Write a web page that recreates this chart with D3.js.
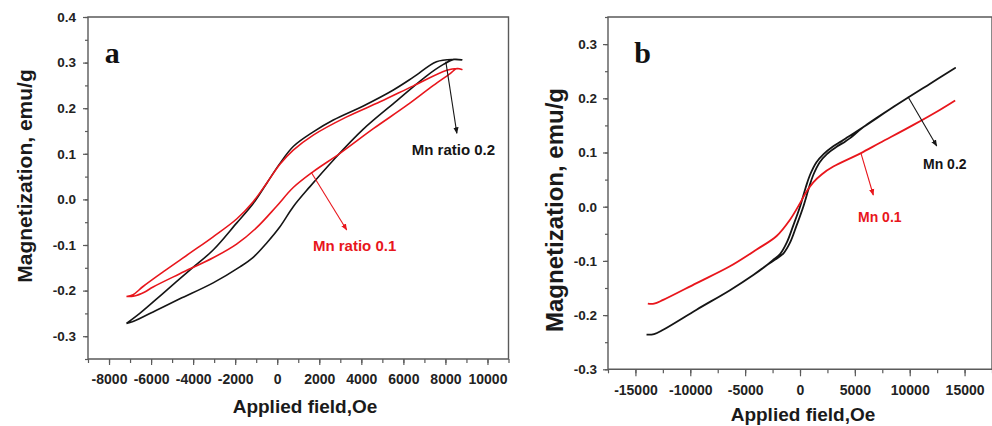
<!DOCTYPE html>
<html>
<head>
<meta charset="utf-8">
<script src="https://cdn.jsdelivr.net/npm/d3@7"></script>
<style>
  body { margin: 0; background: #fff; }
  svg { display: block; }
  .tick text { font-family: "Liberation Sans", Arial, sans-serif; font-weight: bold; fill: #222; }
</style>
</head>
<body>
<div id="chart"></div>
<script>
// Panel a: loops, lower branch (ascending field) then upper branch (descending)
const aMn02Field = [-7171, -6857, -5743, -4633, -3048, -1776, -1143, -510, 129, 762, 1557, 2667, 4095, 5681, 7110, 7905, 8400, 8780,
  8400, 7573, 6476, 5524, 4095, 2667, 1714, 762, 129, -505, -1143, -1933, -3048, -4157, -5429, -6538, -7171];
const aMn02Mag = [-0.272, -0.268, -0.243, -0.218, -0.183, -0.148, -0.127, -0.096, -0.060, -0.016, 0.028, 0.086, 0.154, 0.216, 0.271, 0.296, 0.307, 0.306,
  0.307, 0.302, 0.268, 0.240, 0.205, 0.174, 0.148, 0.116, 0.079, 0.035, -0.009, -0.052, -0.111, -0.155, -0.206, -0.250, -0.272];

const aMn01Field = [-7171, -6800, -6300, -5905, -4633, -3048, -1933, -981, -29, 762, 1714, 2986, 4571, 6157, 7429, 8224, 8543, 8780,
  8543, 8066, 6476, 4890, 3305, 1714, 762, 129, -510, -1143, -1933, -3048, -4157, -5429, -6381, -6857, -7171];
const aMn01Mag = [-0.213, -0.212, -0.203, -0.192, -0.163, -0.128, -0.098, -0.062, -0.015, 0.026, 0.061, 0.101, 0.155, 0.206, 0.250, 0.276, 0.287, 0.285,
  0.287, 0.283, 0.249, 0.214, 0.181, 0.141, 0.108, 0.077, 0.035, -0.005, -0.043, -0.082, -0.118, -0.159, -0.191, -0.209, -0.213];

// Panel b
const bMn02Field = [-13988, -13300, -12470, -9425, -6380, -4256, -3039, -2300, -1500, -900, -300, 300, 800, 1200, 1800, 2450, 3300, 4100, 4600, 5779, 8820, 11861, 13990, 14142,
  13990, 11861, 8820, 5779, 4400, 3800, 3000, 2150, 1500, 900, 500, 0, -600, -1200, -1800, -2500, -3039, -4256, -6380, -9425, -12470, -13300, -13988];
const bMn02Mag = [-0.236, -0.235, -0.227, -0.190, -0.154, -0.126, -0.108, -0.098, -0.086, -0.066, -0.034, 0.000, 0.034, 0.058, 0.082, 0.097, 0.110, 0.120, 0.127, 0.147, 0.188, 0.227, 0.254, 0.256,
  0.254, 0.227, 0.188, 0.147, 0.129, 0.121, 0.111, 0.097, 0.082, 0.058, 0.034, 0.000, -0.034, -0.066, -0.087, -0.099, -0.108, -0.126, -0.154, -0.190, -0.227, -0.235, -0.236];

const bMn01Field = [-13870, -13300, -12470, -9425, -6387, -3950, -2129, -912, -152, 600, 1212, 2000, 3038, 5469, 7299, 10337, 12774, 14142];
const bMn01Mag = [-0.179, -0.179, -0.172, -0.141, -0.110, -0.079, -0.054, -0.024, 0.001, 0.028, 0.045, 0.060, 0.074, 0.098, 0.118, 0.151, 0.179, 0.196];

// Ticks
const aXTicks = [-8000, -6000, -4000, -2000, 0, 2000, 4000, 6000, 8000, 10000];
const aYTicks = [-0.3, -0.2, -0.1, 0.0, 0.1, 0.2, 0.3, 0.4];
const bXTicks = [-15000, -10000, -5000, 0, 5000, 10000, 15000];
const bYTicks = [-0.3, -0.2, -0.1, 0.0, 0.1, 0.2, 0.3];

const red = "#e8161c";
const black = "#151515";
const axisColor = "#5a5a5a";

// plain hyphen for negatives, like the original figure
const locale = d3.formatLocale({ decimal: ".", thousands: "", grouping: [3], currency: ["", ""], minus: "-" });
const fmtX = locale.format("d");
const fmtY = locale.format(".1f");

const width = 992, height = 426;
const svg = d3.select("#chart").append("svg")
  .attr("width", width).attr("height", height);

const defs = svg.append("defs");
[["arrowBlack", black], ["arrowRed", red]].forEach(([id, c]) => {
  defs.append("marker")
    .attr("id", id)
    .attr("viewBox", "0 0 10 10")
    .attr("refX", 9).attr("refY", 5)
    .attr("markerWidth", 6).attr("markerHeight", 6)
    .attr("orient", "auto")
    .append("path").attr("d", "M0,1 L10,5 L0,9 Z").attr("fill", c);
});

function drawPanel(p) {
  const x = d3.scaleLinear().domain(p.xDomain).range([p.left, p.right]);
  const y = d3.scaleLinear().domain(p.yDomain).range([p.bottom, p.top]);
  const g = svg.append("g");

  // frame (left, top, bottom, right)
  g.append("path")
    .attr("d", `M${p.left},${p.bottom} L${p.left},${p.top} L${p.right},${p.top} L${p.right},${p.bottom} Z`)
    .attr("fill", "none").attr("stroke", axisColor).attr("stroke-width", 1.4);

  // minor ticks
  g.append("g").attr("transform", `translate(0,${p.bottom})`)
    .call(d3.axisBottom(x).tickValues(d3.range(p.xDomain[0], p.xDomain[1] + 1, p.xMinor)).tickSize(4).tickFormat(""))
    .call(s => s.select(".domain").remove());
  g.append("g").attr("transform", `translate(${p.left},0)`)
    .call(d3.axisLeft(y).tickValues(d3.range(p.yDomain[0], p.yDomain[1] + 1e-9, 0.05)).tickSize(3).tickFormat(""))
    .call(s => s.select(".domain").remove());

  // major ticks
  const xa = g.append("g").attr("transform", `translate(0,${p.bottom})`)
    .call(d3.axisBottom(x).tickValues(p.xTicks).tickSize(p.xTickLen).tickPadding(p.xPad).tickFormat(fmtX))
    .call(s => s.select(".domain").remove());
  xa.selectAll("text").style("font-size", p.xFont + "px");
  const ya = g.append("g").attr("transform", `translate(${p.left},0)`)
    .call(d3.axisLeft(y).tickValues(p.yTicks).tickSize(5).tickPadding(p.yPad).tickFormat(fmtY))
    .call(s => s.select(".domain").remove());
  ya.selectAll("text").style("font-size", "13.5px");
  g.selectAll(".tick line").attr("stroke", axisColor).attr("stroke-width", 1.2);

  // axis titles
  g.append("text")
    .attr("x", p.xTitleX).attr("y", p.xTitleY)
    .attr("text-anchor", "middle")
    .style("font-family", "'Liberation Sans', Arial, sans-serif")
    .style("font-weight", "bold").style("font-size", "19px").attr("fill", "#1a1a1a")
    .text("Applied field,Oe");
  g.append("text")
    .attr("transform", `translate(${p.yTitleX},${p.yTitleY}) rotate(-90)`)
    .attr("text-anchor", "middle")
    .style("font-family", "'Liberation Sans', Arial, sans-serif")
    .style("font-weight", "bold").style("font-size", p.yTitleFont + "px").attr("fill", "#1a1a1a")
    .text("Magnetization, emu/g");

  // panel letter
  g.append("text")
    .attr("x", x(p.letterAt[0])).attr("y", y(p.letterAt[1]))
    .style("font-family", "'Liberation Serif', 'Times New Roman', serif")
    .style("font-weight", "bold").style("font-size", "30px").attr("fill", "#111")
    .text(p.letter);

  // curves
  const line = d3.line()
    .x(d => x(d[0])).y(d => y(d[1]))
    .curve(d3.curveCatmullRom.alpha(0.5));
  p.series.forEach(s => {
    g.append("path")
      .datum(d3.zip(s.field, s.mag))
      .attr("d", line)
      .attr("fill", "none")
      .attr("stroke", s.color)
      .attr("stroke-width", s.width)
      .attr("stroke-linejoin", "round");
  });

  // annotations
  p.notes.forEach(n => {
    g.append("line")
      .attr("x1", x(n.from[0])).attr("y1", y(n.from[1]))
      .attr("x2", x(n.to[0])).attr("y2", y(n.to[1]))
      .attr("stroke", n.color).attr("stroke-width", 1.1)
      .attr("marker-end", n.color === red ? "url(#arrowRed)" : "url(#arrowBlack)");
    g.append("text")
      .attr("x", x(n.at[0])).attr("y", y(n.at[1]))
      .style("font-family", "'Liberation Sans', Arial, sans-serif")
      .style("font-weight", "bold").style("font-size", n.size + "px")
      .attr("fill", n.color)
      .text(n.text);
  });
}

drawPanel({
  left: 88, right: 508.5, top: 17, bottom: 359,
  xDomain: [-9000, 11000], yDomain: [-0.35, 0.4],
  xTicks: aXTicks, yTicks: aYTicks, xMinor: 1000,
  xTickLen: 6, xPad: 9, xFont: 14, yPad: 7,
  xTitleX: 305, xTitleY: 413, yTitleX: 32, yTitleY: 176, yTitleFont: 21,
  letter: "a", letterAt: [-8200, 0.3],
  series: [
    { field: aMn02Field, mag: aMn02Mag, color: black, width: 1.6 },
    { field: aMn01Field, mag: aMn01Mag, color: red, width: 1.6 }
  ],
  notes: [
    { from: [8019, 0.302], to: [8543, 0.145], at: [6400, 0.097], text: "Mn ratio 0.2", color: black, size: 15 },
    { from: [1638, 0.058], to: [3305, -0.067], at: [1700, -0.1125], text: "Mn ratio 0.1", color: red, size: 15 }
  ]
});

drawPanel({
  left: 608, right: 992, top: 17, bottom: 369.3,
  xDomain: [-17500, 17500], yDomain: [-0.3, 0.35],
  xTicks: bXTicks, yTicks: bYTicks, xMinor: 2500,
  xTickLen: 7, xPad: 9, xFont: 14, yPad: 6,
  xTitleX: 803, xTitleY: 421, yTitleX: 563, yTitleY: 210, yTitleFont: 24,
  letter: "b", letterAt: [-15100, 0.266],
  series: [
    { field: bMn02Field, mag: bMn02Mag, color: black, width: 1.8 },
    { field: bMn01Field, mag: bMn01Mag, color: red, width: 1.8 }
  ],
  notes: [
    { from: [9844, 0.203], to: [12460, 0.112], at: [11211, 0.0696], text: "Mn 0.2", color: black, size: 14 },
    { from: [5560, 0.0985], to: [6681, 0.0216], at: [5287, -0.0277], text: "Mn 0.1", color: red, size: 14 }
  ]
});
</script>
</body>
</html>
